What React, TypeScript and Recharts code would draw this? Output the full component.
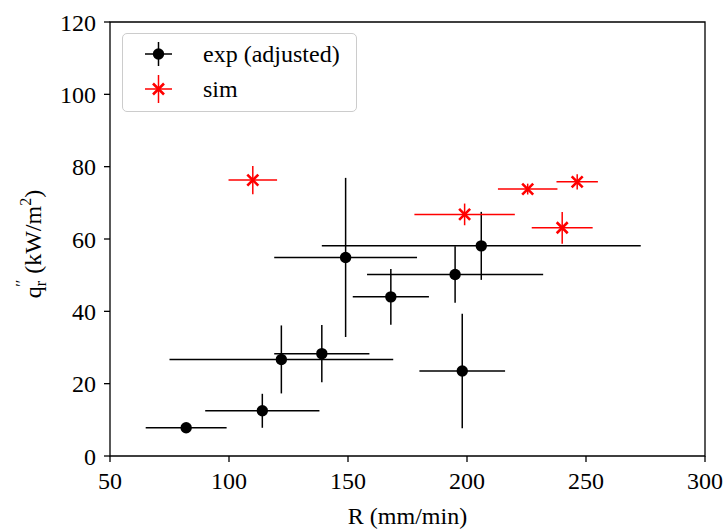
import React from 'react';
import { ScatterChart, Scatter, XAxis, YAxis, ErrorBar, Legend, ReferenceArea } from 'recharts';

// Experimental (adjusted)
const expR = [82, 114, 122, 139, 149, 168, 195, 206, 198];
const expQ = [7.8, 12.5, 26.7, 28.3, 54.9, 44.0, 50.2, 58.1, 23.5];
const expRErr = [17, 24, 47, 20, 30, 16, 37, 67, 18];
const expQErr = [0, 4.7, 9.4, 7.9, 22, 7.7, 7.8, 9.4, 15.8];

// Simulation
const simR = [110, 199, 225.5, 240, 246.3];
const simQ = [76.3, 66.8, 73.8, 63.1, 75.8];
const simRErr = [10.2, 21.1, 12.5, 12.8, 8.7];
const simQErr = [3.9, 3.0, 1.5, 4.4, 2.1];

const xTicks = [50, 100, 150, 200, 250, 300];
const yTicks = [0, 20, 40, 60, 80, 100, 120];

const expData = expR.map((r, i) => ({ r, q: expQ[i], rErr: expRErr[i], qErr: expQErr[i] }));
const simData = simR.map((r, i) => ({ r, q: simQ[i], rErr: simRErr[i], qErr: simQErr[i] }));

const FONT = "'Liberation Serif', 'Times New Roman', Times, 'DejaVu Serif', serif";
const FS = 24;

const Dot = (props: any) => <circle cx={props.cx} cy={props.cy} r={5.7} fill="#000" />;
const Cross = (props: any) => {
  const { cx, cy } = props;
  const s = 5.5;
  return (
    <path
      d={`M${cx - s},${cy - s}L${cx + s},${cy + s}M${cx - s},${cy + s}L${cx + s},${cy - s}`}
      stroke="#ff0000"
      strokeWidth={2.6}
      fill="none"
    />
  );
};

const LegendBox = () => (
  <div
    style={{
      position: 'relative',
      width: 235,
      height: 79,
      boxSizing: 'border-box',
      border: '1.5px solid #cccccc',
      borderRadius: 5,
      background: 'rgba(255,255,255,0.8)',
      fontFamily: FONT,
      fontSize: FS,
      color: '#000',
    }}
  >
    <svg width={60} height={79} style={{ position: 'absolute', left: 0, top: 0 }}>
      <line x1={22} x2={49} y1={20} y2={20} stroke="#000" strokeWidth={1.5} />
      <line x1={35.5} x2={35.5} y1={8} y2={32} stroke="#000" strokeWidth={1.5} />
      <circle cx={35.5} cy={20} r={5.7} fill="#000" />
      <line x1={22} x2={49} y1={55} y2={55} stroke="#ff0000" strokeWidth={1.5} />
      <line x1={35.5} x2={35.5} y1={41} y2={69} stroke="#ff0000" strokeWidth={1.5} />
      <path d="M30,49.5L41,60.5M30,60.5L41,49.5" stroke="#ff0000" strokeWidth={2.6} />
    </svg>
    <div style={{ position: 'absolute', left: 80, top: 20, transform: 'translateY(-50%)', lineHeight: 1, whiteSpace: 'nowrap', fontFamily: FONT }}>
      exp (adjusted)
    </div>
    <div style={{ position: 'absolute', left: 80, top: 55, transform: 'translateY(-50%)', lineHeight: 1, whiteSpace: 'nowrap', fontFamily: FONT }}>
      sim
    </div>
  </div>
);

const XLabel = (props: any) => {
  const vb = props.viewBox || {};
  return (
    <text x={vb.x + vb.width / 2} y={524} textAnchor="middle" style={{ fontFamily: FONT, fontSize: FS }} fill="#000">
      R (mm/min)
    </text>
  );
};

const YLabel = () => (
  <text
    x={0}
    y={0}
    transform="translate(41,244) rotate(-90)"
    textAnchor="middle"
    style={{ fontFamily: FONT, fontSize: FS }}
    fill="#000"
  >
    <tspan>q</tspan>
    <tspan style={{ fontSize: 16 }} dy={5}>r</tspan>
    <tspan style={{ fontSize: 16 }} dx={-6} dy={-19}>′′</tspan>
    <tspan dy={14}> (kW/m</tspan>
    <tspan style={{ fontSize: 16 }} dy={-10}>2</tspan>
    <tspan dy={10}>)</tspan>
  </text>
);

const tickStyle = { fontFamily: FONT, fontSize: FS, fill: '#000', style: { fontFamily: FONT } };

export default function App() {
  return (
    <div style={{ position: 'absolute', left: 0, top: 0, width: 727, height: 529, background: '#fff', fontFamily: FONT }}>
      <ScatterChart width={727} height={529} margin={{ top: 22, right: 22, bottom: 33, left: 50 }} style={{ fontFamily: FONT }}>
        <XAxis
          type="number"
          dataKey="r"
          domain={[50, 300]}
          ticks={xTicks}
          tick={tickStyle}
          tickSize={6}
          tickMargin={10}
          height={40}
          axisLine={false}
          tickLine={{ stroke: '#000', strokeWidth: 1.3 }}
          label={<XLabel />}
          allowDataOverflow
        />
        <YAxis
          type="number"
          dataKey="q"
          domain={[0, 120]}
          ticks={yTicks}
          tick={tickStyle}
          tickSize={6}
          tickMargin={8}
          width={60}
          axisLine={false}
          tickLine={{ stroke: '#000', strokeWidth: 1.3 }}
          label={<YLabel />}
          allowDataOverflow
        />
        <ReferenceArea x1={50} x2={300} y1={0} y2={120} fill="none" stroke="#000" strokeWidth={1.3} fillOpacity={0} strokeOpacity={1} />
        <Legend
          layout="vertical"
          align="center"
          verticalAlign="middle"
          wrapperStyle={{ left: 122, top: 33, width: 235, height: 79 }}
          content={<LegendBox />}
        />
        <Scatter data={expData} name="exp (adjusted)" shape={<Dot />} isAnimationActive={false}>
          <ErrorBar dataKey="rErr" direction="x" width={0} stroke="#000" strokeWidth={1.5} />
          <ErrorBar dataKey="qErr" direction="y" width={0} stroke="#000" strokeWidth={1.5} />
        </Scatter>
        <Scatter data={simData} name="sim" shape={<Cross />} isAnimationActive={false}>
          <ErrorBar dataKey="rErr" direction="x" width={0} stroke="#ff0000" strokeWidth={1.5} />
          <ErrorBar dataKey="qErr" direction="y" width={0} stroke="#ff0000" strokeWidth={1.5} />
        </Scatter>
      </ScatterChart>
    </div>
  );
}
